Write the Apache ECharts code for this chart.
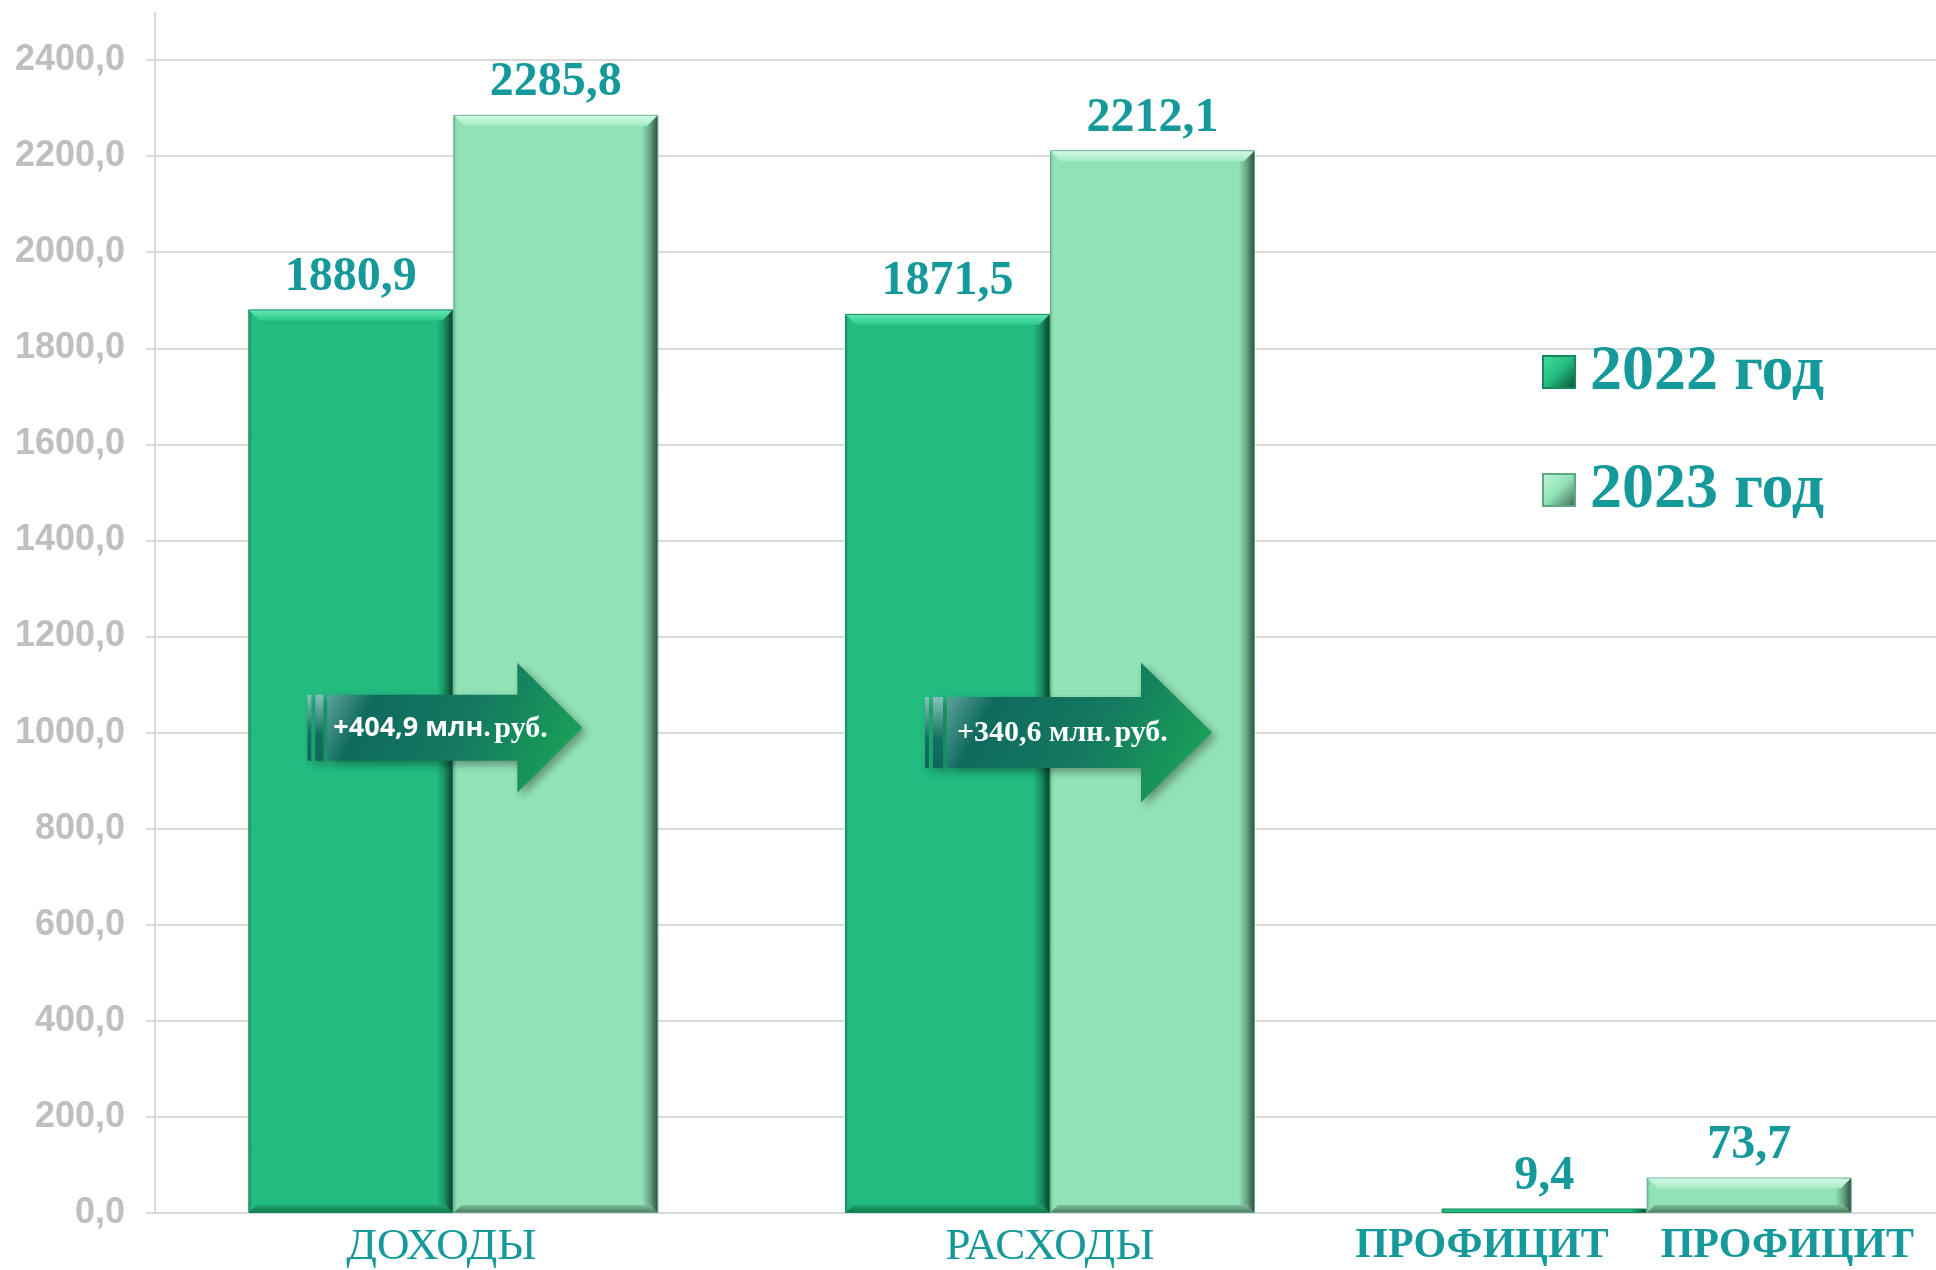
<!DOCTYPE html>
<html><head><meta charset="utf-8">
<script src="https://cdn.jsdelivr.net/npm/echarts@6/dist/echarts.min.js"></script>
<style>html,body{margin:0;padding:0;background:#fff}#c{width:1936px;height:1270px}</style>
</head><body><div id="c"></div>
<script>
// ---- data ----
const categories = ['ДОХОДЫ', 'РАСХОДЫ', 'ПРОФИЦИТ'];
const seriesNames = ['2022 год', '2023 год'];
const values2022 = [1880.9, 1871.5, 9.4];
const values2023 = [2285.8, 2212.1, 73.7];
const yMin = 0, yMax = 2400, yInterval = 200;
const arrowCategories = [0, 1];
const arrowLevels = [1010, 1000];
const arrowAmounts = ['+404,9 млн.', '+340,6 млн.'];
const arrowUnit = 'руб.';

// ---- styles ----
const TEAL = '#16999a';
const SERIF = '"Liberation Serif","Times New Roman",serif';
const SANS = '"Liberation Sans",Arial,sans-serif';
const G = echarts.graphic;
const fmt = v => v.toFixed(1).replace('.', ',');
const BAR_W = 205;

const bar22 = new G.LinearGradient(0, 0, 1, 0, [
  {offset: 0, color: '#179563'}, {offset: 0.02, color: '#22bb80'},
  {offset: 0.92, color: '#22bb80'}, {offset: 0.96, color: '#168a5c'}, {offset: 1, color: '#0b3a27'}]);
const bar23 = new G.LinearGradient(0, 0, 1, 0, [
  {offset: 0, color: '#74c198'}, {offset: 0.02, color: '#92e2b7'},
  {offset: 0.92, color: '#92e2b7'}, {offset: 0.96, color: '#64a283'}, {offset: 1, color: '#2c4a3b'}]);
const leg22 = new G.LinearGradient(0, 0, 1, 1, [
  {offset: 0, color: '#46e0a2'}, {offset: 0.5, color: '#22bb80'}, {offset: 1, color: '#0c4a31'}]);
const leg23 = new G.LinearGradient(0, 0, 1, 1, [
  {offset: 0, color: '#c0f6d9'}, {offset: 0.5, color: '#92e2b7'}, {offset: 1, color: '#3b6450'}]);
const BEVEL = [
  {top: ['#5fe8b0', '#2cc78b'], bottom: ['#1fa672', '#137a52']},
  {top: ['#d2fbe6', '#a3eac5'], bottom: ['#7fbf9d', '#4f7d66']}
];

// arrow geometry offsets relative to category centre / level
const ARROW_GEOM = [
  {s1: [-146, -142], s2: [-138, -130], body: -126, head: 64, tip: 129, bh: 33, hh: 65, tx: -120, sans: true},
  {s1: [-125, -121], s2: [-117, -107], body: -103, head: 91, tip: 162, bh: 35.5, hh: 70, tx: -93, sans: false}
];

function renderArrow(params, api) {
  const i = params.dataIndex;
  const g = ARROW_GEOM[i];
  const p = api.coord([api.value(0), api.value(1)]);
  const cx = p[0], cy = p[1];
  const fill = new G.LinearGradient(0, 0, 1, 1, [
    {offset: 0, color: '#78b7ae'}, {offset: 0.2, color: '#0f6a5e'},
    {offset: 0.55, color: '#147a60'}, {offset: 1, color: '#1bab55'}]);
  const stripeFill = new G.LinearGradient(0, 0, 0, 1, [
    {offset: 0, color: '#86c2b9'}, {offset: 0.6, color: '#11705f'}, {offset: 1, color: '#0e665a'}]);
  const shadow = {shadowBlur: 8, shadowColor: 'rgba(0,0,0,0.35)', shadowOffsetX: 4, shadowOffsetY: 4};
  const pts = [
    [cx + g.body, cy - g.bh], [cx + g.head, cy - g.bh], [cx + g.head, cy - g.hh],
    [cx + g.tip, cy], [cx + g.head, cy + g.hh], [cx + g.head, cy + g.bh], [cx + g.body, cy + g.bh]];
  const amountStyle = g.sans
    ? {fontFamily: '"Open Sans",' + SANS, fontWeight: 'bold', fontSize: 27, fill: '#fff'}
    : {fontFamily: SERIF, fontWeight: 'bold', fontSize: 30, fill: '#fff'};
  return {
    type: 'group',
    children: [
      {type: 'rect', shape: {x: cx + g.s1[0], y: cy - g.bh, width: g.s1[1] - g.s1[0], height: 2 * g.bh}, style: Object.assign({fill: stripeFill}, shadow)},
      {type: 'rect', shape: {x: cx + g.s2[0], y: cy - g.bh, width: g.s2[1] - g.s2[0], height: 2 * g.bh}, style: Object.assign({fill: stripeFill}, shadow)},
      {type: 'polygon', shape: {points: pts}, style: Object.assign({fill: fill}, shadow)},
      {type: 'text', x: cx + g.tx, y: cy + 1, style: {
        text: '{a|' + arrowAmounts[i] + '} {b|' + arrowUnit + '}',
        fill: '#fff',
        verticalAlign: 'middle', align: 'left',
        rich: {a: amountStyle, b: {fontFamily: SERIF, fontWeight: 'bold', fontSize: 30, fill: '#fff'}}
      }}
    ]
  };
}

// bevel highlight on top of each bar (top light edge, bottom dark edge)
function renderBevel(params, api) {
  const cat = api.value(0), val = api.value(1), s = api.value(2);
  const top = api.coord([cat, val]);
  const base = api.coord([cat, 0]);
  const h = base[1] - top[1];
  if (h < 20) return null;
  const x0 = s === 0 ? top[0] - BAR_W : top[0];
  const x1 = x0 + BAR_W;
  const y0 = top[1], y1 = base[1];
  const d = 11, db = 8;
  const c = BEVEL[s];
  return {
    type: 'group',
    children: [
      {type: 'polygon', shape: {points: [[x0 + 1, y0 + 1], [x1 - 1, y0 + 1], [x1 - d, y0 + d], [x0 + d, y0 + d]]},
       style: {fill: new G.LinearGradient(0, 0, 0, 1, [{offset: 0, color: c.top[0]}, {offset: 1, color: c.top[1]}])}},
      {type: 'polygon', shape: {points: [[x0 + 1, y1 - 1], [x1 - 1, y1 - 1], [x1 - db, y1 - db], [x0 + db, y1 - db]]},
       style: {fill: new G.LinearGradient(0, 0, 0, 1, [{offset: 0, color: c.bottom[0]}, {offset: 1, color: c.bottom[1]}])}}
    ]
  };
}

const bevelData = [];
values2022.forEach((v, k) => bevelData.push([k, v, 0]));
values2023.forEach((v, k) => bevelData.push([k, v, 1]));

const chart = echarts.init(document.getElementById('c'), null, {renderer: 'canvas'});
const valueLabel = {
  show: true, position: 'top', distance: 8,
  fontFamily: SERIF, fontWeight: 'bold', fontSize: 48, color: TEAL,
  formatter: p => fmt(p.value)
};
chart.setOption({
  animation: false,
  backgroundColor: '#fff',
  grid: {left: 155, width: 1790, top: 60, bottom: 57, containLabel: false, outerBoundsMode: 'none'},
  legend: {
    orient: 'vertical', left: 1542, top: 340, padding: 0, itemWidth: 32, itemHeight: 32, itemGap: 54,
    selectedMode: false,
    data: [
      {name: seriesNames[0], icon: 'rect', itemStyle: {color: leg22}},
      {name: seriesNames[1], icon: 'rect', itemStyle: {color: leg23}}
    ],
    textStyle: {fontFamily: SERIF, fontWeight: 'bold', fontSize: 64, lineHeight: 64, color: TEAL, padding: [0, 0, 0, 10]}
  },
  xAxis: {
    type: 'category', data: categories,
    axisLine: {lineStyle: {color: '#d9d9d9', width: 2}},
    axisTick: {show: false},
    axisLabel: {
      interval: 0, margin: 12,
      formatter: (v, i) => i === 2 ? '{b|' + v + '}{gap|}{b2|' + v + '}' : (i === 0 ? '{r0|' + v + '}' : '{r|' + v + '}'),
      rich: {
        r: {fontFamily: SERIF, fontSize: 45, color: TEAL},
        r0: {fontFamily: SERIF, fontSize: 45, color: TEAL, padding: [0, 24, 0, 0]},
        b: {fontFamily: SERIF, fontWeight: 'bold', fontSize: 42, color: TEAL},
        b2: {fontFamily: SERIF, fontWeight: 'bold', fontSize: 42, color: TEAL, padding: [0, 24, 0, 0]},
        gap: {width: 52}
      }
    }
  },
  yAxis: {
    type: 'value', min: yMin, max: yMax, interval: yInterval,
    axisLine: {show: true, lineStyle: {color: '#d9d9d9', width: 2}},
    axisTick: {show: true, length: 9, lineStyle: {color: '#d9d9d9', width: 2}},
    splitLine: {lineStyle: {color: '#d9d9d9', width: 2}},
    axisLabel: {margin: 30, fontFamily: SANS, fontWeight: 'bold', fontSize: 36, color: '#bfbfbf', formatter: v => fmt(v)}
  },
  graphic: [{type: 'line', shape: {x1: 155, y1: 12, x2: 155, y2: 60}, style: {stroke: '#d9d9d9', lineWidth: 2}, silent: true}],
  series: [
    {name: seriesNames[0], type: 'bar', data: values2022, barWidth: BAR_W, barGap: '0%',
     itemStyle: {color: bar22, borderColor: '#138a5b', borderWidth: 1}, label: valueLabel, z: 2},
    {name: seriesNames[1], type: 'bar', data: values2023, barWidth: BAR_W, barGap: '0%',
     itemStyle: {color: bar23, borderColor: '#5fa884', borderWidth: 1}, label: valueLabel, z: 2},
    {type: 'custom', renderItem: renderBevel, z: 3, silent: true, data: bevelData},
    {type: 'custom', renderItem: renderArrow, z: 5, silent: true,
     data: arrowCategories.map((c, k) => [c, arrowLevels[k]])}
  ]
});
</script></body></html>
